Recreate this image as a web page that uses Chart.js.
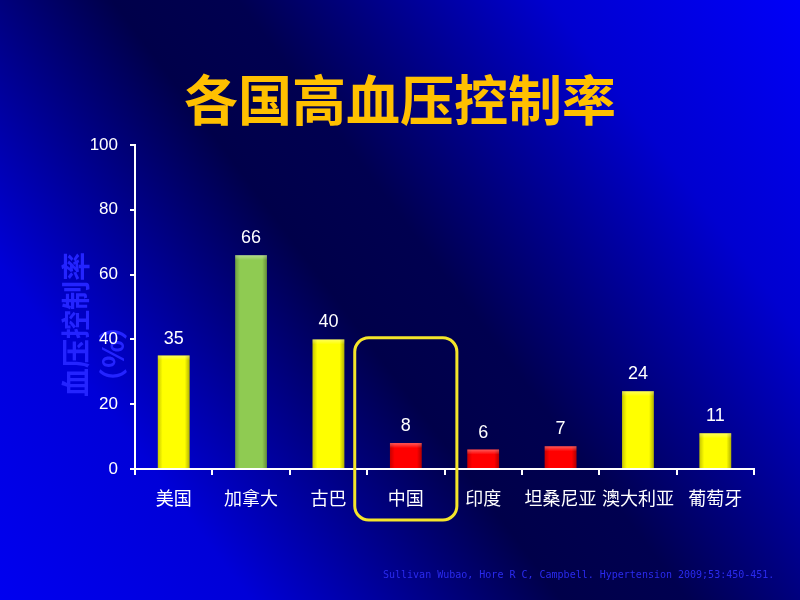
<!DOCTYPE html>
<html>
<head>
<meta charset="utf-8">
<script src="https://cdn.jsdelivr.net/npm/chart.js@4"></script>
<style>
html, body { margin: 0; padding: 0; background: #000050; }
</style>
</head>
<body>
<canvas id="rateChart" width="800" height="600"></canvas>
<script>
// data
const countries = ['美国', '加拿大', '古巴', '中国', '印度', '坦桑尼亚', '澳大利亚', '葡萄牙'];
const controlRates = [35, 66, 40, 8, 6, 7, 24, 11];
const barColors = ['#ffff00', '#8fcb52', '#ffff00', '#ff0000', '#ff0000', '#ff0000', '#ffff00', '#ffff00'];
const yTickValues = [0, 20, 40, 60, 80, 100];
const chartTitle = '各国高血压控制率';
const yTitleLines = ['血压控制率', '（%）'];
const sourceNote = 'Sullivan Wubao, Hore R C, Campbell. Hypertension 2009;53:450-451.';
const highlighted = '中国';

const cjk = '"Noto Sans CJK SC", "Noto Sans", sans-serif';
const latin = '"Liberation Sans", Arial, sans-serif';

const slidePlugin = {
  id: 'slide',
  beforeDraw(chart) {
    const ctx = chart.ctx;
    const { width, height } = chart;
    ctx.save();
    const g = ctx.createLinearGradient(0, height, width, 0);
    g.addColorStop(0, '#0000f0');
    g.addColorStop(0.2, '#0000d8');
    g.addColorStop(0.45, '#00004a');
    g.addColorStop(0.55, '#000050');
    g.addColorStop(0.8, '#0000d0');
    g.addColorStop(1, '#0000f8');
    ctx.fillStyle = g;
    ctx.fillRect(0, 0, width, height);

    // rotated y title, sits under the tick labels
    ctx.translate(64, 397);
    ctx.rotate(-Math.PI / 2);
    ctx.font = 'bold 29px ' + cjk;
    ctx.fillStyle = '#2424ff';
    ctx.textAlign = 'left';
    ctx.textBaseline = 'middle';
    yTitleLines.forEach((line, i) => ctx.fillText(line, 0, 12 + i * 37));
    ctx.restore();
  },
  afterDatasetsDraw(chart) {
    const ctx = chart.ctx;
    const meta = chart.getDatasetMeta(0);
    ctx.save();
    meta.data.forEach((bar, i) => {
      const left = bar.x - bar.width / 2;
      const h = bar.base - bar.y;
      // bevel shading
      const g = ctx.createLinearGradient(left, 0, left + bar.width, 0);
      g.addColorStop(0, 'rgba(0,0,0,0.22)');
      g.addColorStop(0.15, 'rgba(0,0,0,0)');
      g.addColorStop(0.85, 'rgba(0,0,0,0)');
      g.addColorStop(1, 'rgba(0,0,0,0.3)');
      ctx.fillStyle = g;
      ctx.fillRect(left, bar.y, bar.width, h);
      const t = ctx.createLinearGradient(0, bar.y, 0, bar.y + 5);
      t.addColorStop(0, 'rgba(255,255,255,0.35)');
      t.addColorStop(1, 'rgba(255,255,255,0)');
      ctx.fillStyle = t;
      ctx.fillRect(left, bar.y, bar.width, Math.min(5, h));

      ctx.font = '18px ' + latin;
      ctx.fillStyle = '#ffffff';
      ctx.textAlign = 'center';
      ctx.textBaseline = 'bottom';
      ctx.fillText(String(controlRates[i]), bar.x, bar.y - 8);
    });
    ctx.restore();
  },
  afterDraw(chart) {
    const ctx = chart.ctx;
    const xs = chart.scales.x, ys = chart.scales.y;
    ctx.save();
    ctx.font = 'bold 54px ' + cjk;
    ctx.fillStyle = '#ffc000';
    ctx.textAlign = 'center';
    ctx.textBaseline = 'middle';
    ctx.fillText(chartTitle, 400, 100);

    // highlight box round 中国
    const idx = countries.indexOf(highlighted);
    const cx = xs.getPixelForValue(idx);
    const step = xs.getPixelForValue(1) - xs.getPixelForValue(0);
    const left = cx - step * 0.66, right = cx + step * 0.66;
    const top = ys.getPixelForValue(40.5), bottom = chart.chartArea.bottom + 51;
    ctx.beginPath();
    ctx.roundRect(left, top, right - left, bottom - top, 14);
    ctx.lineWidth = 3;
    ctx.strokeStyle = '#f5e52a';
    ctx.stroke();

    ctx.font = '10px "DejaVu Sans Mono", monospace';
    ctx.fillStyle = '#2a2aee';
    ctx.textAlign = 'left';
    ctx.fillText(sourceNote, 383, 575);
    ctx.restore();
  }
};

new Chart(document.getElementById('rateChart'), {
  type: 'bar',
  data: {
    labels: countries,
    datasets: [{
      data: controlRates,
      backgroundColor: barColors,
      borderWidth: 0,
      barPercentage: 0.41,
      categoryPercentage: 1
    }]
  },
  options: {
    responsive: false,
    animation: false,
    layout: { padding: { top: 145, right: 46, left: 0, bottom: 0 } },
    plugins: { legend: { display: false }, tooltip: { enabled: false }, title: { display: false } },
    scales: {
      x: {
        afterFit: s => { s.height = 131; },
        grid: { drawOnChartArea: false, color: '#ffffff', lineWidth: 2, tickLength: 6, offset: true },
        border: { color: '#ffffff', width: 2 },
        ticks: {
          color: '#ffffff', font: { family: cjk, size: 18 }, padding: 12,
          autoSkip: false, maxRotation: 0
        }
      },
      y: {
        min: 0, max: 100,
        afterFit: s => { s.width = 135; },
        afterBuildTicks: s => { s.ticks = yTickValues.map(v => ({ value: v })); },
        grid: { drawOnChartArea: false, color: '#ffffff', lineWidth: 2, tickLength: 5 },
        border: { color: '#ffffff', width: 2 },
        ticks: { color: '#ffffff', font: { family: latin, size: 17 }, padding: 12 }
      }
    }
  },
  plugins: [slidePlugin]
});
</script>
</body>
</html>
